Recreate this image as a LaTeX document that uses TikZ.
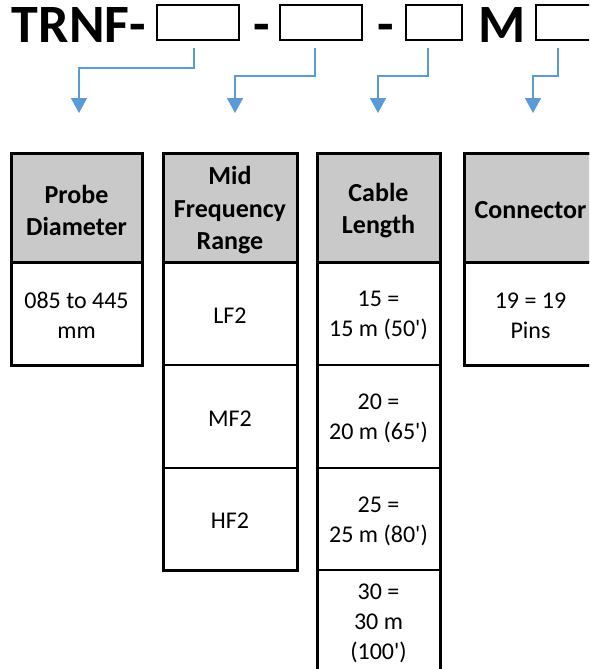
\documentclass[tikz,border=0pt]{standalone}
\usepackage{fontspec}
\setmainfont{Carlito}
\usetikzlibrary{arrows.meta}
\definecolor{hdrgray}{RGB}{201,201,201}
\definecolor{arrblue}{RGB}{91,155,213}
\newcommand{\ap}{\textquotesingle}
\tikzset{
  titlebox/.style={draw=black,line width=2.4pt,inner sep=0pt,outer sep=0pt},
  titletext/.style={inner sep=0pt,outer sep=0pt,anchor=base,font=\fontsize{54}{54}\selectfont\bfseries},
  hdr/.style={draw=black,line width=3pt,fill=hdrgray,inner sep=0pt,outer sep=0pt,
     minimum height=109pt},
  hdrtext/.style={inner sep=0pt,align=center,font=\fontsize{26}{32.5}\selectfont\bfseries},
  cell/.style={draw=black,line width=2pt,fill=white,inner sep=0pt,outer sep=0pt,
     minimum height=103pt},
  celltext/.style={inner sep=0pt,align=center,font=\fontsize{24}{30}\selectfont},
  outer/.style={draw=black,line width=3pt},
  arr/.style={draw=arrblue,line width=1.6pt,-{Triangle[width=16pt,length=15pt]}},
}
\begin{document}
\begin{tikzpicture}[x=1pt,y=-1pt]
\useasboundingbox (0,0) rectangle (589,669);
\clip (0,0) rectangle (589,669);
\fill[white] (0,0) rectangle (589,669);
% title
\node[titletext,anchor=base west] (tt) at (12,43) {TRNF-};
\node[titlebox,minimum width=82pt,minimum height=35pt] (b1) at (198,22.5) {};
\node[titletext] (d1) at (262,43) {-};
\node[titlebox,minimum width=82pt,minimum height=35pt] (b2) at (321,22.5) {};
\node[titletext] (d2) at (386,43) {-};
\node[titlebox,minimum width=56pt,minimum height=35pt] (b3) at (434,22.5) {};
\node[titletext] (mm) at (502,43) {M};
\node[titlebox,minimum width=82pt,minimum height=35pt] (b4) at (577,22.5) {};
% connector points
\coordinate (s1) at (194,48); \coordinate (e1) at (79,113);
\coordinate (s2) at (315,48); \coordinate (e2) at (235,113);
\coordinate (s3) at (428,48); \coordinate (e3) at (378,113);
\coordinate (s4) at (558,48); \coordinate (e4) at (533,113);
\draw[arr] (s1) -- ++(0,20) -| (e1);
\draw[arr] (s2) -- ++(0,28) -| (e2);
\draw[arr] (s3) -- ++(0,28) -| (e3);
\draw[arr] (s4) -- ++(0,28) -| (e4);
% table 1
\node[cell,minimum width=131pt] (p1) at (76.5,313.5) {};
\node[hdr,minimum width=131pt] (h1) at (76.5,207.5) {};
\draw[outer] (11,153) rectangle (142,365);
\node[hdrtext] (h1t) at ([yshift=-3pt]h1.center) {Probe\\Diameter};
\node[celltext] (p1t) at ([yshift=-2pt]p1.center) {085 to 445\\mm};
% table 2
\node[cell,minimum width=134pt] (f1) at (230,313.5) {};
\node[cell,minimum width=134pt] (f2) at (230,416.5) {};
\node[cell,minimum width=134pt] (f3) at (230,519) {};
\node[hdr,minimum width=134pt] (h2) at (230,207.5) {};
\draw[outer] (163,153) rectangle (297,570);
\node[hdrtext] (h2t) at ([yshift=-3pt]h2.center) {Mid\\Frequency\\Range};
\node[celltext] (f1t) at ([yshift=-2pt]f1.center) {LF2};
\node[celltext] (f2t) at ([yshift=-2pt]f2.center) {MF2};
\node[celltext] (f3t) at ([yshift=-2pt]f3.center) {HF2};
% table 3
\node[cell,minimum width=123pt] (c1) at (378.5,313.5) {};
\node[cell,minimum width=123pt] (c2) at (378.5,416.5) {};
\node[cell,minimum width=123pt] (c3) at (378.5,519) {};
\node[cell,minimum width=123pt] (c4) at (378.5,621.5) {};
\node[hdr,minimum width=123pt] (h3) at (378.5,207.5) {};
\draw[outer] (317,153) rectangle (440,690);
\node[hdrtext] (h3t) at ([yshift=-3pt]h3.center) {Cable\\Length};
\node[celltext] (c1t) at ([yshift=-2pt]c1.center) {15 =\\15 m (50\ap)};
\node[celltext] (c2t) at ([yshift=-2pt]c2.center) {20 =\\20 m (65\ap)};
\node[celltext] (c3t) at ([yshift=-2pt]c3.center) {25 =\\25 m (80\ap)};
\node[celltext] (c4t) at ([yshift=-2pt]c4.center) {30 =\\30 m\\(100\ap)};
% table 4
\node[cell,minimum width=133pt] (n1) at (530.5,313.5) {};
\node[hdr,minimum width=133pt] (h4) at (530.5,207.5) {};
\draw[outer] (464,153) rectangle (597,365);
\node[hdrtext] (h4t) at ([yshift=-3pt]h4.center) {Connector};
\node[celltext] (n1t) at ([yshift=-2pt]n1.center) {19 = 19\\Pins};
\end{tikzpicture}
\end{document}
